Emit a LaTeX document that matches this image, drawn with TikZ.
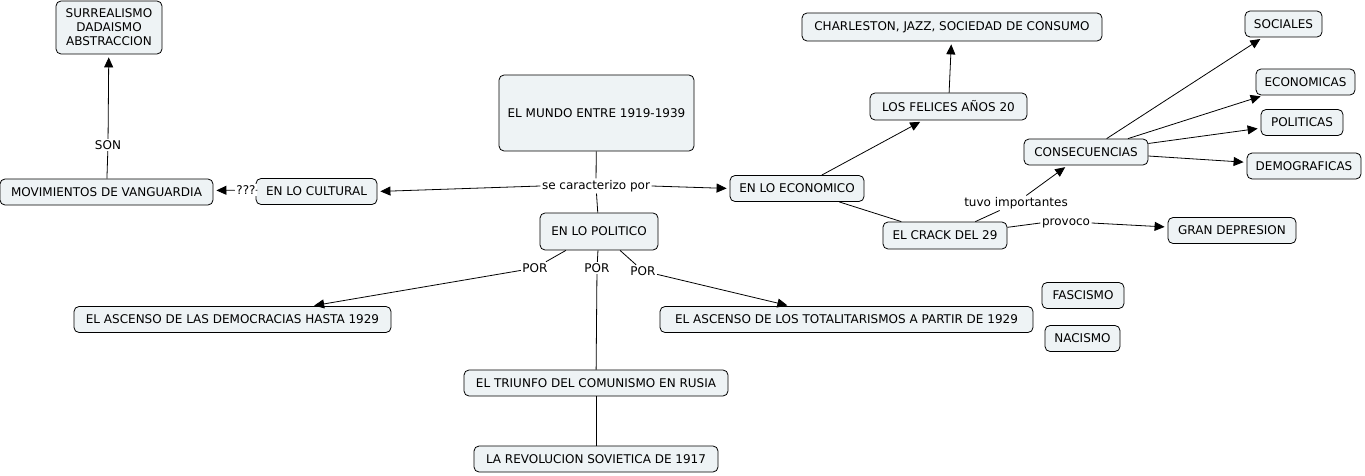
\documentclass[tikz,border=0pt]{standalone}
\usepackage{fontspec}
\setmainfont{DejaVu Sans}
\usetikzlibrary{arrows.meta}
\definecolor{boxfill}{RGB}{238,243,245}
\tikzset{
  concept/.style={draw=black, line width=0.8pt, rounded corners=5pt, fill=boxfill,
    font=\fontsize{12}{14}\selectfont, align=center, inner xsep=0pt, inner ysep=0pt,
    minimum height=26pt},
  lbl/.style={font=\fontsize{12}{14}\selectfont, fill=white, inner sep=1.5pt},
  link/.style={line width=0.8pt, draw=black},
  arr/.style={link, -{Triangle[length=10pt,width=9pt]}, shorten >=3pt},
}
\begin{document}
\begin{tikzpicture}[x=1pt,y=-1pt]
\useasboundingbox (0,0) rectangle (1365,476);
% concepts
\node[concept, minimum width=106pt, minimum height=53pt] (surr) at (109,27.5) {SURREALISMO\\DADAISMO\\ABSTRACCION};
\node[concept, minimum width=300pt, minimum height=28pt] (charl) at (952,27) {CHARLESTON, JAZZ, SOCIEDAD DE CONSUMO};
\node[concept, minimum width=77pt] (soc) at (1283.5,24) {SOCIALES};
\node[concept, minimum width=99pt] (econs) at (1305.5,82) {ECONOMICAS};
\node[concept, minimum width=157pt, minimum height=27pt] (felices) at (948.5,106.5) {LOS FELICES AÑOS 20};
\node[concept, minimum width=195pt, minimum height=76pt] (mundo) at (596.5,113) {EL MUNDO ENTRE 1919-1939};
\node[concept, minimum width=82pt] (polit) at (1302,122.5) {POLITICAS};
\node[concept, minimum width=124pt] (consec) at (1086,152) {CONSECUENCIAS};
\node[concept, minimum width=114pt] (demog) at (1304,166) {DEMOGRAFICAS};
\node[concept, minimum width=213pt] (movim) at (106.5,192) {MOVIMIENTOS DE VANGUARDIA};
\node[concept, minimum width=121pt] (cult) at (316.5,191.5) {EN LO CULTURAL};
\node[concept, minimum width=134pt] (econ) at (797,188.5) {EN LO ECONOMICO};
\node[concept, minimum width=118pt, minimum height=37pt] (politico) at (599,231.5) {EN LO POLITICO};
\node[concept, minimum width=124pt, minimum height=27pt] (crack) at (945,235.5) {EL CRACK DEL 29};
\node[concept, minimum width=128pt] (gran) at (1232,230.5) {GRAN DEPRESION};
\node[concept, minimum width=82pt] (fasc) at (1083,295.5) {FASCISMO};
\node[concept, minimum width=317pt] (demo) at (232.5,319.5) {EL ASCENSO DE LAS DEMOCRACIAS HASTA 1929};
\node[concept, minimum width=373pt] (total) at (846.5,319.5) {EL ASCENSO DE LOS TOTALITARISMOS A PARTIR DE 1929};
\node[concept, minimum width=75pt] (nac) at (1082.5,338.5) {NACISMO};
\node[concept, minimum width=264pt] (triunfo) at (596,383) {EL TRIUNFO DEL COMUNISMO EN RUSIA};
\node[concept, minimum width=244pt] (revol) at (596,459) {LA REVOLUCION SOVIETICA DE 1917};
% link labels
\node[lbl] (secar) at (596,186) {se caracterizo por};
\node[lbl] (q) at (246,190) {???};
\node[lbl] (son) at (108,145) {SON};
\node[lbl] (tuvo) at (1016,203) {tuvo importantes};
\node[lbl] (prov) at (1066,223) {provoco};
\node[lbl] (por1) at (535,268) {POR};
\node[lbl] (por2) at (597,268) {POR};
\node[lbl] (por3) at (643,271) {POR};
% connectors
\draw[link] (mundo) -- (secar);
\draw[arr] (secar.west) -- (cult.east);
\draw[arr] (secar.east) -- (econ.west);
\draw[link] (secar) -- (politico);
\draw[link] (cult) -- (q);
\draw[arr] (q) -- (movim);
\draw[link] (movim) -- (son);
\draw[arr] (son) -- (surr);
\draw[arr] (econ) -- (felices);
\draw[arr] (felices) -- (charl);
\draw[link] (econ) -- (crack);
\draw[link] (crack) -- (tuvo);
\draw[arr] (tuvo) -- (consec);
\draw[link] (crack) -- (prov.west);
\draw[arr] (prov.east) -- (gran);
\draw[arr] (consec) -- (soc);
\draw[arr] (consec) -- (econs);
\draw[arr] (consec) -- (polit);
\draw[arr] (consec) -- (demog);
\draw[link] (politico) -- (por1);
\draw[arr] (por1) -- (demo);
\draw[link] (politico) -- (por2);
\draw[link] (por2) -- (triunfo);
\draw[link] (politico) -- (por3);
\draw[arr] (por3) -- (total);
\draw[link] (triunfo) -- (revol);
\end{tikzpicture}
\end{document}
